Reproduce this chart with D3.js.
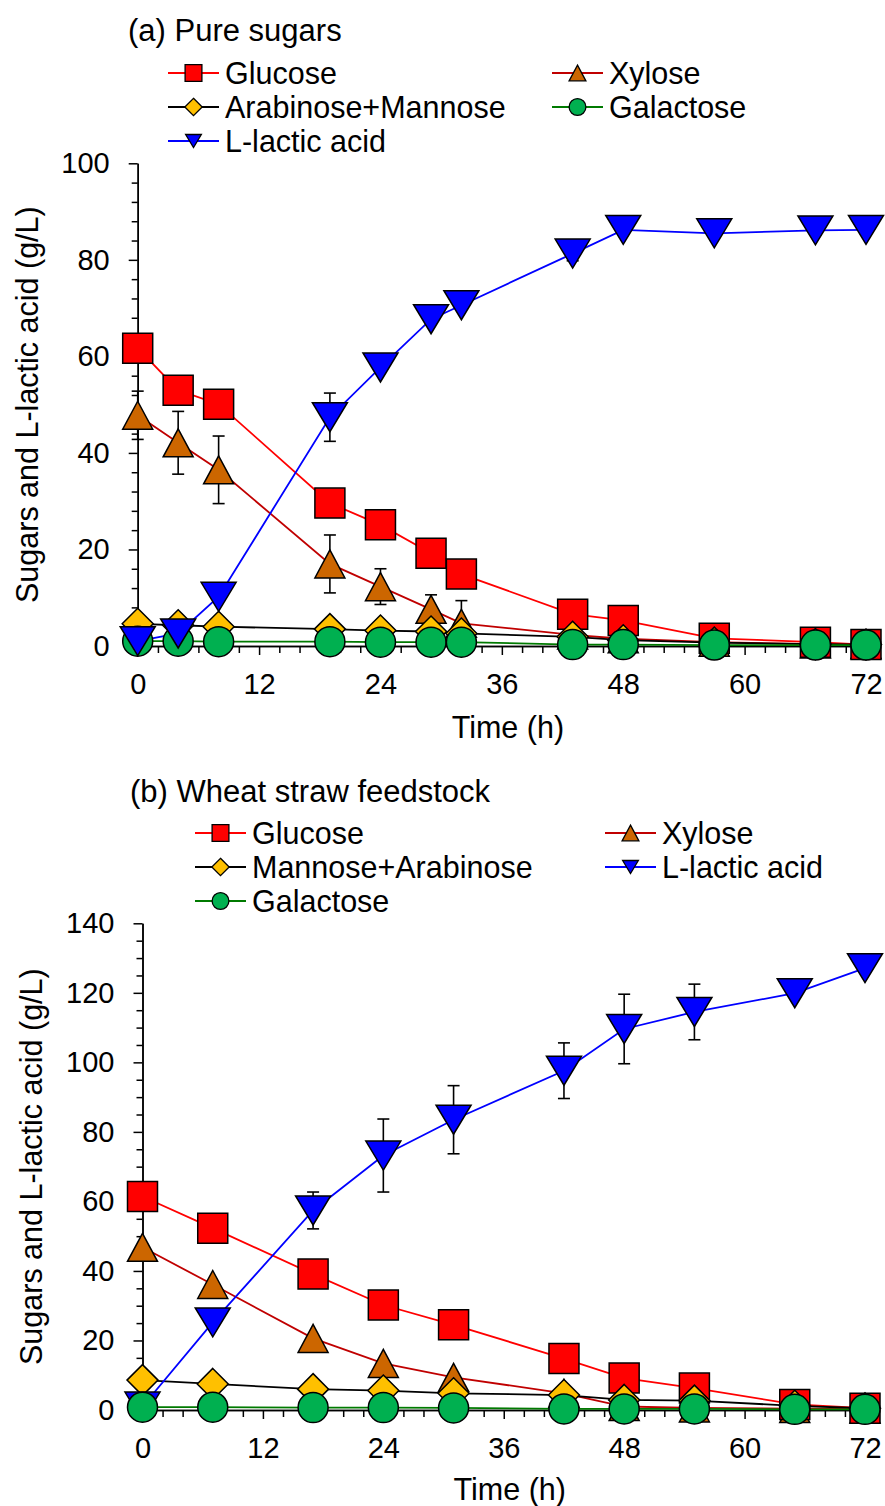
<!DOCTYPE html>
<html>
<head>
<meta charset="utf-8">
<script src="https://cdn.jsdelivr.net/npm/d3@7"></script>
<style>
  body { margin: 0; background: #fff; }
  text { font-family: "Liberation Sans", Arial, sans-serif; fill: #000; }
</style>
</head>
<body>
<svg id="chart" width="885" height="1506"></svg>
<script>
// ---- panel (a): pure sugars ----
const timesA = [0, 4, 8, 19, 24, 29, 32, 43, 48, 57, 67, 72];
const glucoseA = [61.7, 53.0, 50.1, 29.6, 25.1, 19.2, 14.9, 6.6, 5.3, 1.6, 0.8, 0.3];
const xyloseA = [47.8, 42.1, 36.5, 17.0, 12.3, 7.6, 4.7, 2.3, 1.5, 0.8, 0.4, 0.3];
const xyloseErrA = [5, 6.5, 7, 6, 3.7, 3, 4.7, 0, 0, 0, 0, 0];
const arabManA = [4.6, 4.3, 4.0, 3.5, 3.2, 3.0, 2.6, 1.9, 1.2, 0.7, 0.4, 0.3];
const galactoseA = [1.0, 1.0, 0.9, 0.9, 0.8, 0.8, 0.8, 0.3, 0.3, 0.2, 0.2, 0.2];
const lacticA = [1.0, 2.6, 10.2, 47.4, 57.7, 67.7, 70.6, 81.3, 86.2, 85.5, 86.1, 86.2];
const lacticErrA = [0, 0, 0, 5, 0, 0, 0, 1.5, 0, 0, 1, 0];

// ---- panel (b): wheat straw feedstock ----
const timesB = [0, 7, 17, 24, 31, 42, 48, 55, 65, 72];
const glucoseB = [61.4, 52.3, 39.1, 30.2, 24.5, 14.8, 9.2, 6.3, 1.6, 0.5];
const xyloseB = [46.8, 36.1, 20.6, 13.4, 9.4, 4.8, 1.0, 0.6, 0.4, 0.3];
const manArabB = [8.6, 7.5, 6.0, 5.6, 4.8, 4.3, 2.9, 2.7, 1.2, 0.5];
const galactoseB = [0.8, 0.8, 0.7, 0.7, 0.6, 0.3, 0.3, 0.3, 0.2, 0.2];
const lacticB = [1.0, 25.2, 57.4, 73.2, 83.5, 97.6, 109.6, 114.5, 119.9, 127.1];
const lacticErrB = [0, 0, 5.3, 10.5, 9.8, 8, 10, 8, 0, 0];

const xTicks = [0, 12, 24, 36, 48, 60, 72];
const yTicksA = [0, 20, 40, 60, 80, 100];
const yTicksB = [0, 20, 40, 60, 80, 100, 120, 140];

const styles = {
  glucose:   { shape: 'square',  fill: '#FF0000', line: '#FF0000' },
  xylose:    { shape: 'up',      fill: '#CC6600', line: '#C00000' },
  arabMan:   { shape: 'diamond', fill: '#FFC000', line: '#000000' },
  galactose: { shape: 'circle',  fill: '#00B050', line: '#007A00' },
  lactic:    { shape: 'down',    fill: '#0000FF', line: '#0000FF' }
};

const svg = d3.select('#chart');

function markerPath(shape, s) {
  const p = d3.path();
  if (shape === 'square') {
    const h = 15 * s;
    p.rect(-h, -h, 2 * h, 2 * h);
  } else if (shape === 'diamond') {
    const h = 15.5 * s;
    p.moveTo(0, -h); p.lineTo(h, 0); p.lineTo(0, h); p.lineTo(-h, 0); p.closePath();
  } else if (shape === 'circle') {
    const r = 15 * s;
    p.moveTo(r, 0); p.arc(0, 0, r, 0, 2 * Math.PI);
  } else if (shape === 'up') {
    const w = 15 * s, h = 14 * s;
    p.moveTo(0, -h); p.lineTo(w, h); p.lineTo(-w, h); p.closePath();
  } else {
    const w = 17.5 * s, h = 14.5 * s;
    p.moveTo(-w, -h); p.lineTo(w, -h); p.lineTo(0, h); p.closePath();
  }
  return p.toString();
}

function drawPanel(cfg) {
  const g = svg.append('g');
  const x = d3.scaleLinear().domain([0, 72]).range(cfg.xRange);
  const y = d3.scaleLinear().domain([0, cfg.yMax]).range(cfg.yRange);

  // axes: minor ticks first, then majors with labels
  const minorX = d3.range(0, 73, 2).filter(v => v % 12 !== 0);
  const minorY = d3.range(0, cfg.yMax + 0.1, cfg.yMinor).filter(v => !cfg.yTicks.includes(v));

  const axX = g.append('g').attr('transform', `translate(0,${y(0)})`);
  axX.call(d3.axisBottom(x).tickValues(minorX).tickSize(7).tickSizeOuter(0).tickFormat(''));
  axX.append('g').call(d3.axisBottom(x).tickValues(xTicks).tickSize(9).tickSizeOuter(0).tickPadding(18));

  const axY = g.append('g').attr('transform', `translate(${x(0)},0)`);
  axY.call(d3.axisLeft(y).tickValues(minorY).tickSize(6).tickSizeOuter(0).tickFormat(''));
  axY.append('g').call(d3.axisLeft(y).tickValues(cfg.yTicks).tickSize(9).tickSizeOuter(0).tickPadding(19));

  g.selectAll('.domain').attr('stroke', '#000').attr('stroke-width', 1.5);
  g.selectAll('.tick line').attr('stroke', '#000').attr('stroke-width', 1.5);
  g.selectAll('.tick text').style('font-size', '29px').style('font-family', '"Liberation Sans", Arial, sans-serif');

  // axis titles
  g.append('text')
    .attr('x', (cfg.xRange[0] + cfg.xRange[1]) / 2 + 6)
    .attr('y', y(0) + cfg.xTitleOffset)
    .attr('text-anchor', 'middle').attr('dy', '0.35em')
    .style('font-size', '30.5px')
    .text('Time (h)');
  g.append('text')
    .attr('transform', `translate(${cfg.yTitleX},${(cfg.yRange[0] + cfg.yRange[1]) / 2}) rotate(-90)`)
    .attr('text-anchor', 'middle').attr('dy', '0.35em')
    .style('font-size', '30.5px')
    .text('Sugars and L-lactic acid (g/L)');

  // panel title
  g.append('text')
    .attr('x', cfg.titlePos[0]).attr('y', cfg.titlePos[1]).attr('dy', '0.35em')
    .style('font-size', '31px')
    .text(cfg.title);

  const line = d3.line().x(d => x(d[0])).y(d => y(d[1]));

  // series lines
  cfg.series.forEach(s => {
    const st = styles[s.key];
    g.append('path')
      .datum(cfg.times.map((t, i) => [t, s.values[i]]))
      .attr('d', line)
      .attr('fill', 'none')
      .attr('stroke', st.line)
      .attr('stroke-width', 1.8);
  });

  // error bars
  cfg.series.filter(s => s.errors).forEach(s => {
    const eb = cfg.times.map((t, i) => ({ t, v: s.values[i], e: s.errors[i] })).filter(d => d.e > 0);
    const eg = g.append('g').attr('stroke', '#000').attr('stroke-width', 1.6);
    eg.selectAll('line.v').data(eb).enter().append('line')
      .attr('x1', d => x(d.t)).attr('x2', d => x(d.t))
      .attr('y1', d => y(d.v + d.e)).attr('y2', d => y(d.v - d.e));
    ['+', '-'].forEach(sign => {
      eg.selectAll('line.c' + (sign === '+' ? 'p' : 'm')).data(eb).enter().append('line')
        .attr('x1', d => x(d.t) - 6).attr('x2', d => x(d.t) + 6)
        .attr('y1', d => y(sign === '+' ? d.v + d.e : d.v - d.e))
        .attr('y2', d => y(sign === '+' ? d.v + d.e : d.v - d.e));
    });
  });

  // markers (drawing order matches the original stacking)
  cfg.markerOrder.forEach(key => {
    const s = cfg.series.find(d => d.key === key);
    const st = styles[key];
    g.append('g').selectAll('path')
      .data(cfg.times.map((t, i) => [t, s.values[i]]))
      .enter().append('path')
      .attr('transform', d => `translate(${x(d[0])},${y(d[1])})`)
      .attr('d', markerPath(st.shape, 1))
      .attr('fill', st.fill)
      .attr('stroke', '#000')
      .attr('stroke-width', 1.5);
  });

  // legend
  cfg.legend.forEach(item => {
    const st = styles[item.key];
    const lg = g.append('g').attr('transform', `translate(${item.x},${item.y})`);
    lg.append('line').attr('x1', 0).attr('x2', 51).attr('y1', 0).attr('y2', 0)
      .attr('stroke', st.line).attr('stroke-width', 2);
    lg.append('path')
      .attr('transform', 'translate(25.5,0)')
      .attr('d', markerPath(st.shape, st.shape === 'down' ? 0.45 : 0.56))
      .attr('fill', st.fill).attr('stroke', '#000').attr('stroke-width', 1.3);
    lg.append('text').attr('x', 57).attr('y', 0).attr('dy', '0.35em')
      .style('font-size', '30.5px')
      .text(item.label);
  });
}

drawPanel({
  title: '(a) Pure sugars',
  titlePos: [128, 30],
  times: timesA,
  xRange: [137.7, 866],
  yRange: [646, 163.3],
  yMax: 100, yTicks: yTicksA, yMinor: 4,
  xTitleOffset: 81, yTitleX: 27.5,
  series: [
    { key: 'glucose', values: glucoseA },
    { key: 'xylose', values: xyloseA, errors: xyloseErrA },
    { key: 'arabMan', values: arabManA },
    { key: 'galactose', values: galactoseA },
    { key: 'lactic', values: lacticA, errors: lacticErrA }
  ],
  markerOrder: ['xylose', 'glucose', 'arabMan', 'galactose', 'lactic'],
  legend: [
    { key: 'glucose', label: 'Glucose', x: 168, y: 73 },
    { key: 'xylose', label: 'Xylose', x: 552, y: 73 },
    { key: 'arabMan', label: 'Arabinose+Mannose', x: 168, y: 107 },
    { key: 'galactose', label: 'Galactose', x: 552, y: 107 },
    { key: 'lactic', label: 'L-lactic acid', x: 168, y: 141 }
  ]
});

drawPanel({
  title: '(b) Wheat straw feedstock',
  titlePos: [130, 791],
  times: timesB,
  xRange: [142.5, 865],
  yRange: [1410, 923.3],
  yMax: 140, yTicks: yTicksB, yMinor: 5,
  xTitleOffset: 79, yTitleX: 31.5,
  series: [
    { key: 'glucose', values: glucoseB },
    { key: 'xylose', values: xyloseB },
    { key: 'arabMan', values: manArabB },
    { key: 'galactose', values: galactoseB },
    { key: 'lactic', values: lacticB, errors: lacticErrB }
  ],
  markerOrder: ['xylose', 'glucose', 'arabMan', 'lactic', 'galactose'],
  legend: [
    { key: 'glucose', label: 'Glucose', x: 195, y: 833 },
    { key: 'xylose', label: 'Xylose', x: 605, y: 833 },
    { key: 'arabMan', label: 'Mannose+Arabinose', x: 195, y: 867 },
    { key: 'lactic', label: 'L-lactic acid', x: 605, y: 867 },
    { key: 'galactose', label: 'Galactose', x: 195, y: 901 }
  ]
});
</script>
</body>
</html>
